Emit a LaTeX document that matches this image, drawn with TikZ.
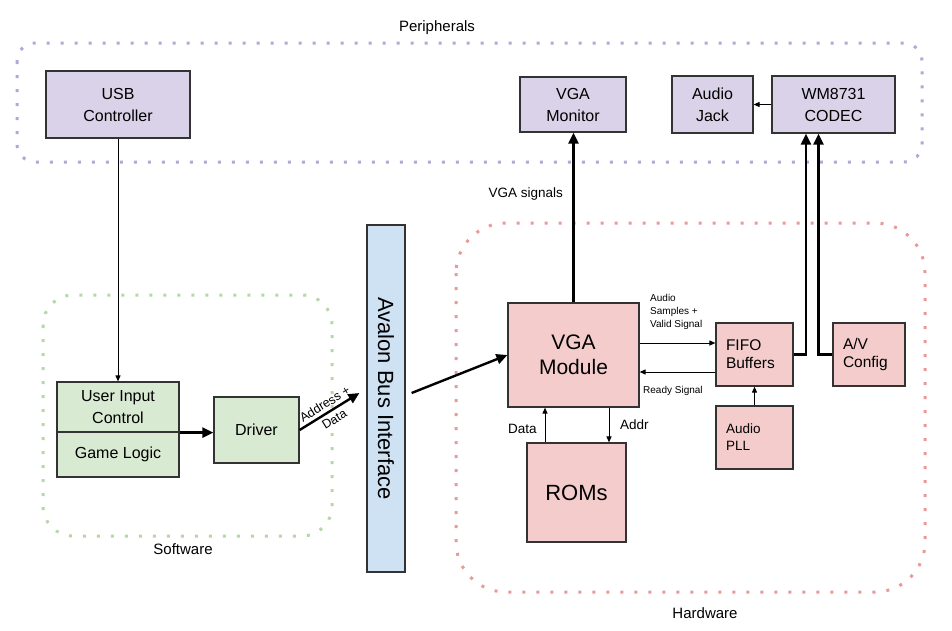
\documentclass[tikz,border=0pt]{standalone}
\usepackage{fontspec}
\setmainfont{Liberation Sans}
\usetikzlibrary{arrows.meta,calc}
\definecolor{perfill}{HTML}{D9D2E9}
\definecolor{swfill}{HTML}{D9EAD3}
\definecolor{busfill}{HTML}{CFE2F3}
\definecolor{hwfill}{HTML}{F4CCCC}
\definecolor{perdot}{HTML}{B4A7D6}
\definecolor{swdot}{HTML}{B6D7A8}
\definecolor{hwdot}{HTML}{EA9999}
\definecolor{edge}{HTML}{333333}
\tikzset{
  blk/.style={draw=edge, line width=1.2pt, inner sep=0pt, align=center, font=\fontsize{16}{22}\selectfont},
  leftblk/.style={blk, align=left, inner xsep=10pt},
  grp/.style={line width=3pt, dash pattern=on 3pt off 11pt},
  thinarrow/.style={draw=black, line width=1pt, -{Triangle[length=6pt,width=5pt]}},
  thickarrow/.style={draw=black, line width=2.4pt, -{Triangle[length=11pt,width=10pt]}},
  grplabel/.style={font=\fontsize{15}{18}\selectfont, inner sep=0pt},
  smalllabel/.style={font=\fontsize{10}{13}\selectfont, inner sep=0pt, align=left},
  midlabel/.style={font=\fontsize{13.5}{16}\selectfont, inner sep=0pt},
}
\begin{document}
\begin{tikzpicture}[x=1pt,y=-1pt]
\useasboundingbox (0,0) rectangle (952,630);
% groups
\draw[grp, draw=perdot, rounded corners=18pt] (17,43) rectangle (922,162);
\draw[grp, draw=swdot, rounded corners=30pt] (43,295) rectangle (332,536);
\draw[grp, draw=hwdot, rounded corners=50pt] (456,223) rectangle (925,592);
\node[grplabel, anchor=base] (lblper) at (437,31) {Peripherals};
\node[grplabel, anchor=base] (lblsw) at (183,554) {Software};
\node[grplabel, anchor=base] (lblhw) at (705,618) {Hardware};
% peripherals
\node[blk, fill=perfill, minimum width=144pt, minimum height=67pt] (usb) at (118,104.5) {USB\\Controller};
\node[blk, fill=perfill, minimum width=106pt, minimum height=55pt] (vgamon) at (573,104.5) {VGA\\Monitor};
\node[blk, fill=perfill, minimum width=81pt, minimum height=57pt] (jack) at (712.5,104.5) {Audio\\Jack};
\node[blk, fill=perfill, minimum width=123pt, minimum height=57pt] (codec) at (833.5,104.5) {WM8731\\CODEC};
% software
\node[blk, fill=swfill, minimum width=122pt, minimum height=50pt] (ui) at (118,407) {User Input\\Control};
\node[blk, fill=swfill, minimum width=122pt, minimum height=45pt] (gl) at (118,454.5) {Game Logic};
\node[blk, fill=swfill, minimum width=85pt, minimum height=66pt] (driver) at (256.5,430) {Driver};
% bus
\node[blk, fill=busfill, minimum width=38pt, minimum height=347pt, font=\fontsize{22}{26}\selectfont] (avalon) at (386,398.5) {\rotatebox{-90}{Avalon Bus Interface}};
% hardware
\node[blk, fill=hwfill, minimum width=131pt, minimum height=104pt, font=\fontsize{21}{25}\selectfont] (vga) at (573.5,355) {VGA\\Module};
\node[blk, fill=hwfill, minimum width=99pt, minimum height=99pt, font=\fontsize{22}{26}\selectfont] (roms) at (576.5,492.5) {ROMs};
\node[leftblk, fill=hwfill, text width=57pt, minimum height=63pt, font=\fontsize{15.5}{18}\selectfont] (fifo) at (754.5,354.5) {FIFO\\Buffers};
\node[leftblk, fill=hwfill, text width=52pt, minimum height=63pt, font=\fontsize{15.5}{18}\selectfont] (avc) at (869,354.5) {A/V\\Config};
\node[leftblk, fill=hwfill, text width=57pt, minimum height=63pt, font=\fontsize{13.5}{17}\selectfont] (pll) at (754.5,437.5) {Audio\\PLL};
% connectors
\draw[thinarrow] (usb.south) -- (ui.north);
\draw[thickarrow] (ui.south east) -- (ui.south east -| driver.west);
\coordinate (adtip) at ($(avalon.west)+(-7,-5.5)$);
\draw[thickarrow] (driver.east) -- (adtip) node[midway, sloped, font=\fontsize{12.5}{18}\selectfont, align=center, inner sep=0pt] (lbladdr) {Address +\\Data};
\coordinate (avout) at ($(avalon.east)+(6,-5.5)$);
\draw[thickarrow] (avout) -- (vga.west);
\draw[thickarrow] (vga.north) -- (vga.north |- vgamon.south);
\node[midlabel, anchor=base east] (lblvgasig) at (563,197) {VGA signals};
\draw[thinarrow] ([yshift=12pt]vga.east) -- ([yshift=12pt]vga.east -| fifo.west);
\draw[thinarrow] ([yshift=-17.5pt]fifo.west) -- ([yshift=-17.5pt]fifo.west -| vga.east);
\node[smalllabel, anchor=north west] (lblaudio) at (650,294.5) {Audio\\Samples +\\Valid Signal};
\node[smalllabel, anchor=base west] (lblready) at (643,393) {Ready Signal};
\draw[thinarrow] ([xshift=-31.5pt]roms.north) -- ([xshift=-31.5pt]roms.north |- vga.south);
\draw[thinarrow] ([xshift=35.5pt]vga.south) -- ([xshift=35.5pt]vga.south |- roms.north);
\node[midlabel, anchor=base west] (lbldata) at (508,433) {Data};
\node[midlabel, anchor=base west] (lbladdr2) at (620,429) {Addr};
\draw[thinarrow] (pll.north) -- (fifo.south);
\draw[thickarrow] (fifo.east) -| ([xshift=-27.5pt]codec.south);
\draw[thickarrow] (avc.west) -| ([xshift=-15pt]codec.south);
\draw[thinarrow] (codec.west) -- (jack.east);
\end{tikzpicture}
\end{document}
